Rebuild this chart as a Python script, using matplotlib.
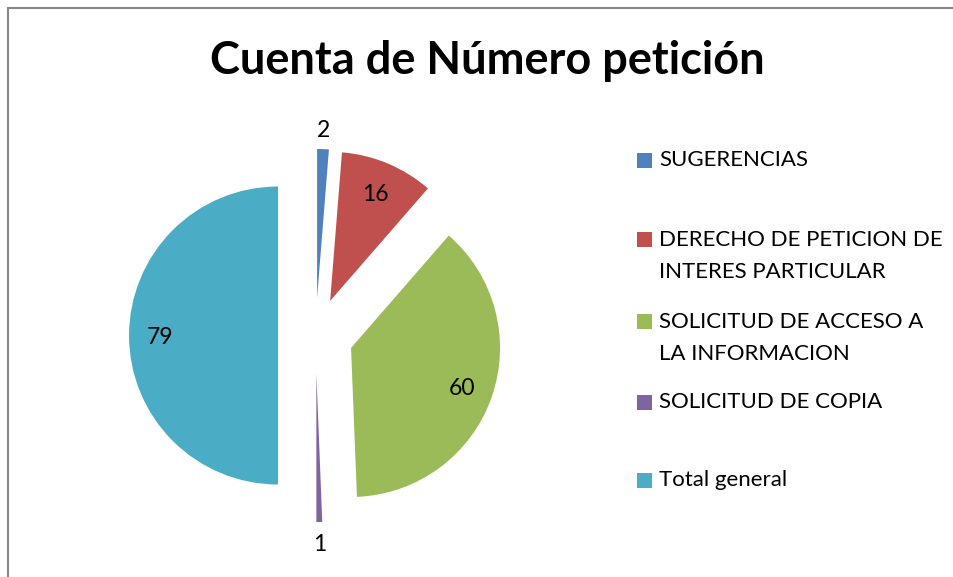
import matplotlib
matplotlib.use("Agg")
from matplotlib import pyplot as plt
from matplotlib.patches import Rectangle
import numpy as np

plt.rcParams['font.family'] = ['Lato', 'DejaVu Sans']

categories = ['SUGERENCIAS',
              'DERECHO DE PETICION DE\nINTERES PARTICULAR',
              'SOLICITUD DE ACCESO A\nLA INFORMACION',
              'SOLICITUD DE COPIA',
              'Total general']
counts = [2, 16, 60, 1, 79]
colors = ['#4F81BD', '#C0504D', '#9BBB59', '#8064A2', '#4BACC6']
title = 'Cuenta de Número petición'

W, H = 954, 577
fig = plt.figure(figsize=(W / 100, H / 100), dpi=100)

# chart frame (only top and left edges are visible in the crop)
fig.patches.append(Rectangle((8 / W, -0.1), 1.2, (H - 8) / H + 0.1,
                             transform=fig.transFigure, fill=False,
                             edgecolor='#868686', linewidth=1.5))

# place axes so that pie radius 1 == 149 px, centre at (315.6, 335.5) px
r_px = 149.0
cx, cy = 315.6, 335.5
left, right, top, bottom = 100, 560, 100, 570
ax = fig.add_axes([left / W, (H - bottom) / H, (right - left) / W, (bottom - top) / H])

explode = [0.252] * len(counts)
wedges, _ = ax.pie(counts, colors=colors, explode=explode, startangle=90,
                   counterclock=False, radius=1.0, frame=True,
                   wedgeprops=dict(linewidth=0))
ax.set_xlim(-(cx - left) / r_px, (right - cx) / r_px)
ax.set_ylim(-(bottom - cy) / r_px, (cy - top) / r_px)
ax.axis('off')

# data labels: small slices outside, others inside
for w, n in zip(wedges, counts):
    mid = np.deg2rad((w.theta1 + w.theta2) / 2)
    frac = n / sum(counts)
    dist = 1.14 if frac < 0.05 else 0.79
    x0, y0 = w.center
    ax.text(x0 + dist * np.cos(mid), y0 + dist * np.sin(mid), str(n),
            ha='center', va='center_baseline', fontsize=16.5, color='black')

fig.text(487 / W, 1 - 61 / H, title, ha='center', va='center',
         fontsize=32.5, fontweight='bold')

# legend
leg_y = [160, 240, 321, 402, 480]
for lbl, col, y in zip(categories, colors, leg_y):
    fig.patches.append(Rectangle((637 / W, 1 - (y + 7.5) / H), 15 / W, 15 / H,
                                 transform=fig.transFigure, facecolor=col,
                                 edgecolor='none'))
    fig.text(659 / W, 1 - (y - 9.5) / H, lbl, ha='left', va='top',
             fontsize=16, linespacing=1.75)

fig.savefig('out.png', dpi=100)
